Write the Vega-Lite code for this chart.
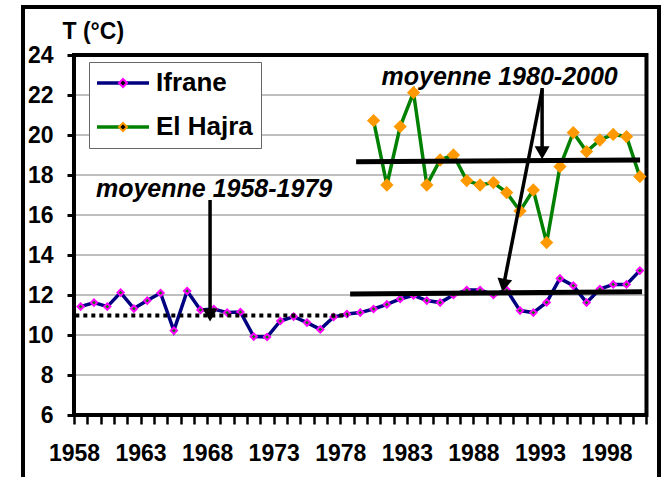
{
  "$schema": "https://vega.github.io/schema/vega-lite/v6.json",
  "width": 636,
  "height": 474,
  "autosize": {"type": "none"},
  "padding": {"left": 23, "top": 7, "right": 3, "bottom": -4},
  "background": "white",
  "config": {
    "view": {"stroke": "black", "strokeWidth": 4},
    "font": "Liberation Sans"
  },
  "datasets": {
    "temperatures": [
      {"annee": 1958, "station": "Ifrane", "T": 11.42},
      {"annee": 1959, "station": "Ifrane", "T": 11.62},
      {"annee": 1960, "station": "Ifrane", "T": 11.42},
      {"annee": 1961, "station": "Ifrane", "T": 12.12},
      {"annee": 1962, "station": "Ifrane", "T": 11.32},
      {"annee": 1963, "station": "Ifrane", "T": 11.72},
      {"annee": 1964, "station": "Ifrane", "T": 12.1},
      {"annee": 1965, "station": "Ifrane", "T": 10.22},
      {"annee": 1966, "station": "Ifrane", "T": 12.2},
      {"annee": 1967, "station": "Ifrane", "T": 11.25},
      {"annee": 1968, "station": "Ifrane", "T": 11.3},
      {"annee": 1969, "station": "Ifrane", "T": 11.12},
      {"annee": 1970, "station": "Ifrane", "T": 11.15},
      {"annee": 1971, "station": "Ifrane", "T": 9.92},
      {"annee": 1972, "station": "Ifrane", "T": 9.9},
      {"annee": 1973, "station": "Ifrane", "T": 10.7},
      {"annee": 1974, "station": "Ifrane", "T": 10.92},
      {"annee": 1975, "station": "Ifrane", "T": 10.62},
      {"annee": 1976, "station": "Ifrane", "T": 10.28},
      {"annee": 1977, "station": "Ifrane", "T": 10.9},
      {"annee": 1978, "station": "Ifrane", "T": 11.05},
      {"annee": 1979, "station": "Ifrane", "T": 11.12},
      {"annee": 1980, "station": "Ifrane", "T": 11.3},
      {"annee": 1981, "station": "Ifrane", "T": 11.53},
      {"annee": 1982, "station": "Ifrane", "T": 11.8},
      {"annee": 1983, "station": "Ifrane", "T": 11.98},
      {"annee": 1984, "station": "Ifrane", "T": 11.72},
      {"annee": 1985, "station": "Ifrane", "T": 11.62},
      {"annee": 1986, "station": "Ifrane", "T": 12.0},
      {"annee": 1987, "station": "Ifrane", "T": 12.25},
      {"annee": 1988, "station": "Ifrane", "T": 12.25},
      {"annee": 1989, "station": "Ifrane", "T": 12.0},
      {"annee": 1990, "station": "Ifrane", "T": 12.25},
      {"annee": 1991, "station": "Ifrane", "T": 11.22},
      {"annee": 1992, "station": "Ifrane", "T": 11.12},
      {"annee": 1993, "station": "Ifrane", "T": 11.63},
      {"annee": 1994, "station": "Ifrane", "T": 12.83},
      {"annee": 1995, "station": "Ifrane", "T": 12.47},
      {"annee": 1996, "station": "Ifrane", "T": 11.62},
      {"annee": 1997, "station": "Ifrane", "T": 12.3},
      {"annee": 1998, "station": "Ifrane", "T": 12.53},
      {"annee": 1999, "station": "Ifrane", "T": 12.53},
      {"annee": 2000, "station": "Ifrane", "T": 13.22},
      {"annee": 1980, "station": "El Hajra", "T": 20.72},
      {"annee": 1981, "station": "El Hajra", "T": 17.5},
      {"annee": 1982, "station": "El Hajra", "T": 20.42},
      {"annee": 1983, "station": "El Hajra", "T": 22.12},
      {"annee": 1984, "station": "El Hajra", "T": 17.5},
      {"annee": 1985, "station": "El Hajra", "T": 18.75},
      {"annee": 1986, "station": "El Hajra", "T": 19.0},
      {"annee": 1987, "station": "El Hajra", "T": 17.72},
      {"annee": 1988, "station": "El Hajra", "T": 17.5},
      {"annee": 1989, "station": "El Hajra", "T": 17.62},
      {"annee": 1990, "station": "El Hajra", "T": 17.12},
      {"annee": 1991, "station": "El Hajra", "T": 16.2},
      {"annee": 1992, "station": "El Hajra", "T": 17.25},
      {"annee": 1993, "station": "El Hajra", "T": 14.62},
      {"annee": 1994, "station": "El Hajra", "T": 18.42},
      {"annee": 1995, "station": "El Hajra", "T": 20.12},
      {"annee": 1996, "station": "El Hajra", "T": 19.17},
      {"annee": 1997, "station": "El Hajra", "T": 19.75},
      {"annee": 1998, "station": "El Hajra", "T": 20.03},
      {"annee": 1999, "station": "El Hajra", "T": 19.92},
      {"annee": 2000, "station": "El Hajra", "T": 17.92}
    ],
    "moyennes": [
      {"periode": "1958-1979", "station": "Ifrane", "annee": 1957.6, "annee2": 1978.1, "T": 10.97, "T2": 10.97},
      {"periode": "1980-2000", "station": "Ifrane", "annee": 1978.24, "annee2": 2000.17, "T": 12.05, "T2": 12.165},
      {"periode": "1980-2000", "station": "El Hajra", "annee": 1978.69, "annee2": 2000.02, "T": 18.665, "T2": 18.75}
    ],
    "fleches": [
      {"label": "moyenne 1958-1979", "cible": "Ifrane", "annee": 1967.72, "T": 11.0, "annee2": 1967.72, "T2": 16.75},
      {"label": "moyenne 1980-2000", "cible": "El Hajra", "annee": 1992.66, "T": 19.11, "annee2": 1992.66, "T2": 22.35},
      {"label": "moyenne 1980-2000", "cible": "Ifrane", "annee": 1989.77, "T": 12.485, "annee2": 1992.66, "T2": 22.25}
    ],
    "etiquettes": [
      {"texte": "moyenne 1958-1979", "annee": 1968.02, "T": 16.925},
      {"texte": "moyenne 1980-2000", "annee": 1989.47, "T": 22.5}
    ],
    "grille": [
      {"annee": 1957.5, "annee2": 2000.5, "T": 8},
      {"annee": 1957.5, "annee2": 2000.5, "T": 10},
      {"annee": 1957.5, "annee2": 2000.5, "T": 12},
      {"annee": 1957.5, "annee2": 2000.5, "T": 14},
      {"annee": 1957.5, "annee2": 2000.5, "T": 16},
      {"annee": 1957.5, "annee2": 2000.5, "T": 18},
      {"annee": 1957.5, "annee2": 2000.5, "T": 20},
      {"annee": 1957.5, "annee2": 2000.5, "T": 22}
    ],
    "zone": [
      {"annee": 1957.5, "annee2": 2000.5, "T": 6, "T2": 24}
    ],
    "cadre": [
      {"annee": 1953.67, "annee2": 2001.44, "T": 2.7, "T2": 26.4}
    ]
  },
  "encoding": {
    "x": {
      "field": "annee", "type": "quantitative",
      "scale": {"domain": [1953.67, 2001.44], "nice": false, "zero": false},
      "axis": {
        "offset": -66,
        "values": [1957.5,1958.5,1959.5,1960.5,1961.5,1962.5,1963.5,1964.5,1965.5,1966.5,1967.5,1968.5,1969.5,1970.5,1971.5,1972.5,1973.5,1974.5,1975.5,1976.5,1977.5,1978.5,1979.5,1980.5,1981.5,1982.5,1983.5,1984.5,1985.5,1986.5,1987.5,1988.5,1989.5,1990.5,1991.5,1992.5,1993.5,1994.5,1995.5,1996.5,1997.5,1998.5,1999.5,2000.5],
        "labelExpr": "(datum.value - 1957.5) % 5 == 0 ? format(datum.value + 0.5, 'd') : ''",
        "labelDx": 6.66,
        "labelOverlap": false, "labelFlush": false, "labelBound": false,
        "labelFont": "Liberation Sans", "labelFontSize": 23, "labelFontWeight": "bold", "labelColor": "black",
        "labelPadding": 18,
        "ticks": true, "tickSize": 9, "tickWidth": 2.5, "tickColor": "black",
        "domain": false, "grid": false, "title": null
      }
    },
    "y": {
      "field": "T", "type": "quantitative",
      "scale": {"domain": [2.7, 26.4], "nice": false, "zero": false},
      "axis": {
        "offset": -51,
        "values": [6, 8, 10, 12, 14, 16, 18, 20, 22, 24],
        "format": "d",
        "labelOverlap": false,
        "labelFont": "Liberation Sans", "labelFontSize": 23, "labelFontWeight": "bold", "labelColor": "black",
        "labelPadding": 14,
        "ticks": true, "tickSize": 7, "tickWidth": 3, "tickColor": "black",
        "domain": false,
        "grid": false,
        "title": "T (°C)",
        "titleAngle": 0, "titleAlign": "left", "titleBaseline": "alphabetic",
        "titleX": -12, "titleY": 31,
        "titleFont": "Liberation Sans", "titleFontSize": 23, "titleFontWeight": "bold", "titleColor": "black"
      }
    }
  },
  "layer": [
    {
      "data": {"name": "grille"},
      "mark": {"type": "rule", "color": "#808080", "strokeWidth": 1},
      "encoding": {
        "x2": {"field": "annee2"}
      }
    },
    {
      "data": {"name": "cadre"},
      "mark": {"type": "rect", "fillOpacity": 0, "stroke": "black", "strokeWidth": 4},
      "encoding": {
        "x2": {"field": "annee2"},
        "y2": {"field": "T2"}
      }
    },
    {
      "data": {"name": "zone"},
      "mark": {"type": "rect", "fillOpacity": 0, "stroke": "black", "strokeWidth": 4},
      "encoding": {
        "x2": {"field": "annee2"},
        "y2": {"field": "T2"}
      }
    },
    {
      "data": {"name": "temperatures"},
      "mark": {"type": "line", "strokeWidth": 3.5},
      "encoding": {
        "color": {
          "field": "station", "type": "nominal",
          "scale": {"domain": ["Ifrane", "El Hajra"], "range": ["#000080", "#008000"]},
          "legend": {
            "orient": "none", "legendX": 66, "legendY": 55, "title": null,
            "symbolType": "M-4,0H4", "symbolSize": 169, "symbolStrokeWidth": 3.5, "symbolOffset": 13,
            "labelFont": "Liberation Sans", "labelFontSize": 26, "labelFontWeight": "bold", "labelColor": "black",
            "labelOffset": 20, "rowPadding": 18, "padding": 8,
            "strokeColor": "#666666", "fillColor": "white"
          }
        }
      }
    },
    {
      "data": {"name": "temperatures"},
      "mark": {"type": "point", "shape": "diamond", "filled": true, "strokeWidth": 2, "opacity": 1},
      "encoding": {
        "fill": {
          "field": "station", "type": "nominal", "sort": ["Ifrane", "El Hajra"],
          "scale": {"range": ["#008000", "#FF9900"]},
          "legend": {
            "orient": "none", "legendX": 66, "legendY": 55, "title": null,
            "symbolType": "diamond", "symbolSize": 64, "symbolStrokeWidth": 2, "symbolOffset": 13,
            "labelFont": "Liberation Sans", "labelFontSize": 26, "labelFontWeight": "bold", "labelOpacity": 0,
            "labelOffset": 20, "rowPadding": 18, "padding": 8
          }
        },
        "stroke": {
          "field": "station", "type": "nominal", "sort": ["Ifrane", "El Hajra"],
          "scale": {"range": ["#FF00FF", "#FF9900"]},
          "legend": {
            "orient": "none", "legendX": 66, "legendY": 55, "title": null,
            "symbolType": "diamond", "symbolSize": 64, "symbolStrokeWidth": 2, "symbolOffset": 13,
            "labelFont": "Liberation Sans", "labelFontSize": 26, "labelFontWeight": "bold", "labelOpacity": 0,
            "labelOffset": 20, "rowPadding": 18, "padding": 8
          }
        },
        "size": {
          "field": "station", "type": "nominal", "sort": ["Ifrane", "El Hajra"],
          "scale": {"range": [40, 110]}, "legend": null
        }
      }
    },
    {
      "data": {"name": "moyennes"},
      "transform": [{"filter": "datum.periode == '1958-1979'"}],
      "mark": {"type": "rule", "color": "black", "strokeWidth": 4, "strokeDash": [4, 4]},
      "encoding": {
        "x2": {"field": "annee2"},
        "y2": {"field": "T2"}
      }
    },
    {
      "data": {"name": "moyennes"},
      "transform": [{"filter": "datum.periode == '1980-2000'"}],
      "mark": {"type": "rule", "color": "black", "strokeWidth": 5},
      "encoding": {
        "x2": {"field": "annee2"},
        "y2": {"field": "T2"}
      }
    },
    {
      "data": {"name": "fleches"},
      "mark": {"type": "rule", "color": "black", "strokeWidth": 3.5},
      "encoding": {
        "x2": {"field": "annee2"},
        "y2": {"field": "T2"}
      }
    },
    {
      "data": {"name": "fleches"},
      "transform": [{"filter": "datum.annee == datum.annee2"}],
      "mark": {"type": "point", "shape": "triangle-down", "filled": true, "color": "black", "size": 225, "opacity": 1},
      "encoding": {}
    },
    {
      "data": {"name": "fleches"},
      "transform": [{"filter": "datum.annee != datum.annee2"}],
      "mark": {"type": "point", "shape": "triangle-down", "filled": true, "color": "black", "size": 225, "angle": 11, "opacity": 1},
      "encoding": {}
    },
    {
      "data": {"name": "etiquettes"},
      "mark": {"type": "text", "font": "Liberation Sans", "fontSize": 25, "fontWeight": "bold", "fontStyle": "italic", "color": "black", "align": "center", "baseline": "alphabetic"},
      "encoding": {
        "text": {"field": "texte"}
      }
    }
  ]
}
